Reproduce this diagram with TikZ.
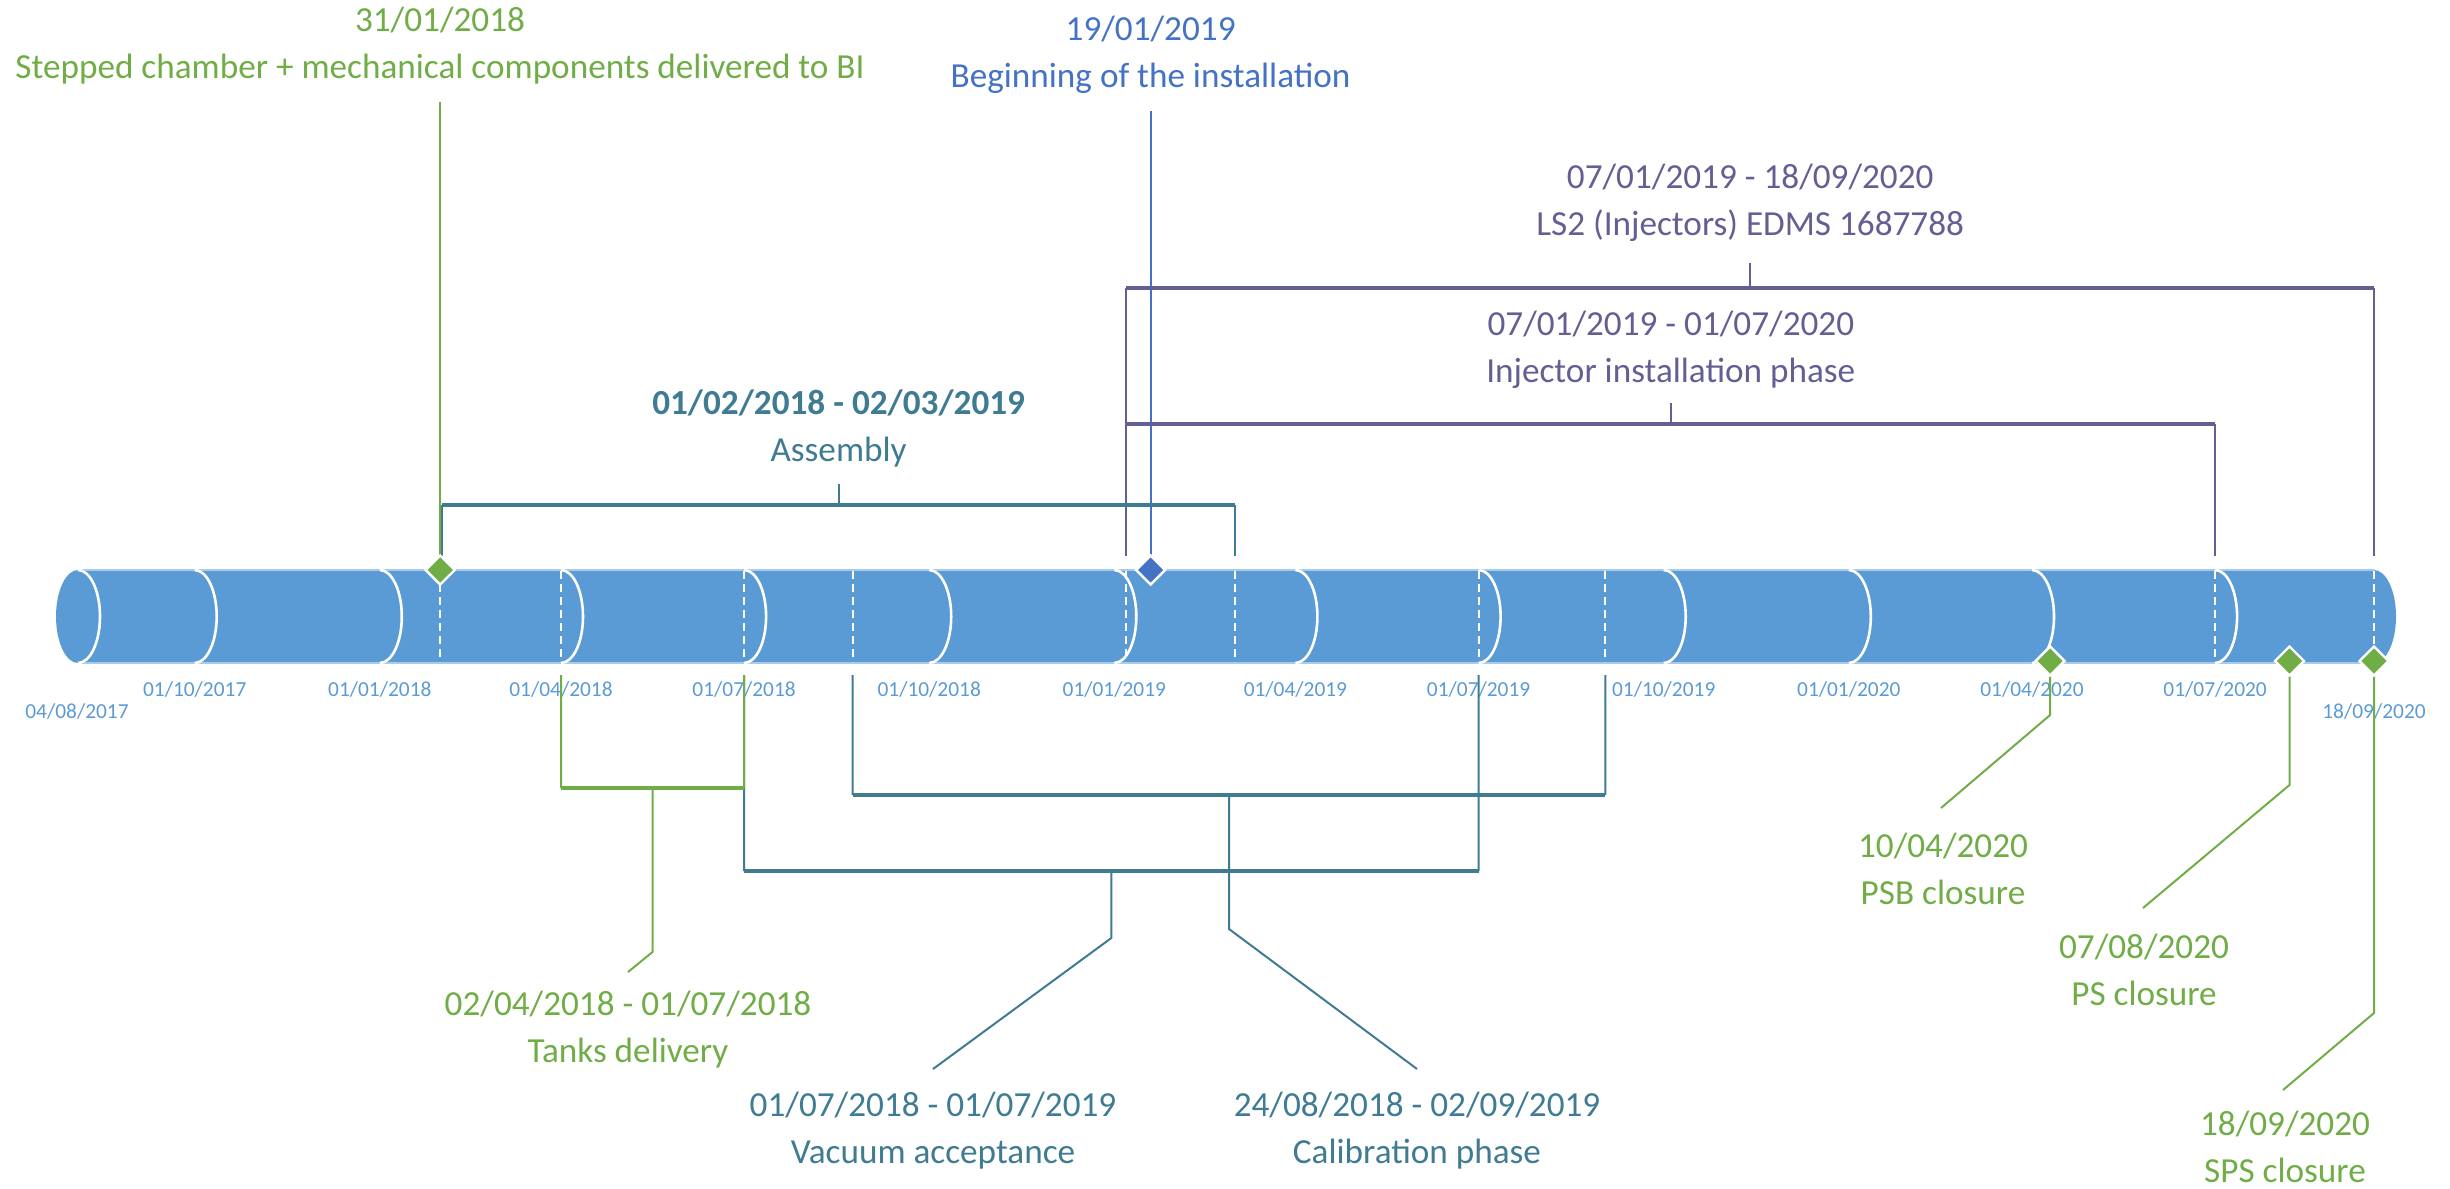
\documentclass[tikz,border=0pt]{standalone}
\usepackage{fontspec}
\setmainfont{Carlito}
\usetikzlibrary{shapes.geometric}
\definecolor{cgreen}{HTML}{70AD47}
\definecolor{cblue}{HTML}{4472C4}
\definecolor{cteal}{HTML}{3F7B92}
\definecolor{cpurple}{HTML}{645F93}
\definecolor{ctick}{HTML}{5B9BD5}
\definecolor{cyl}{HTML}{5B9BD5}
\definecolor{cyledge}{HTML}{A9CBEA}
\begin{document}
\begin{tikzpicture}[x=0.5pt,y=-0.5pt,
  bigtxt/.style={font=\fontsize{17.6}{23.5}\selectfont, align=center, inner sep=0pt},
  ticktxt/.style={font=\fontsize{10.7}{12}\selectfont, text=ctick, inner sep=0pt},
  leg/.style={line width=1pt},
  bar/.style={line width=1.6pt},
  ringarc/.style={draw=white, line width=1.3pt},
  seam/.style={draw=white, line width=1pt, dash pattern=on 4pt off 2.5pt},
  milestone/.style={diamond, minimum width=15pt, minimum height=15pt, inner sep=0pt, draw=white, line width=1.2pt}]
\useasboundingbox (0,0) rectangle (2450,1188);
% ---------- cylinder ----------
\fill[cyl] (78,570) -- (2374,570) arc[start angle=90,end angle=-90,x radius=11pt,y radius=23.25pt]
  -- (78,663) arc[start angle=270,end angle=90,x radius=11pt,y radius=23.25pt] -- cycle;
\draw[cyledge, line width=0.6pt] (78,570) -- (2374,570);
\draw[cyledge, line width=0.6pt] (78,663) -- (2374,663);
\foreach \q in {78,194.7,379.8,561.0,744.1,929.2,1114.3,1295.4,1478.6,1663.7,1848.8,2032.0,2215.1}
  \draw[ringarc] (\q,570) arc[start angle=90,end angle=-90,x radius=11pt,y radius=23.25pt];
\foreach \q in {440.2,561.0,744.1,852.7,1126.4,1235.1,1478.6,1605.3,2215.1,2374.0}
  \draw[seam] (\q,571) -- (\q,662);
% ---------- tick labels ----------
\node[ticktxt] (q1) at (194.7,690) {01/10/2017};
\node[ticktxt] (q2) at (379.8,690) {01/01/2018};
\node[ticktxt] (q3) at (561.0,690) {01/04/2018};
\node[ticktxt] (q4) at (744.1,690) {01/07/2018};
\node[ticktxt] (q5) at (929.2,690) {01/10/2018};
\node[ticktxt] (q6) at (1114.3,690) {01/01/2019};
\node[ticktxt] (q7) at (1295.4,690) {01/04/2019};
\node[ticktxt] (q8) at (1478.6,690) {01/07/2019};
\node[ticktxt] (q9) at (1663.7,690) {01/10/2019};
\node[ticktxt] (q10) at (1848.8,690) {01/01/2020};
\node[ticktxt] (q11) at (2032.0,690) {01/04/2020};
\node[ticktxt] (q12) at (2215.1,690) {01/07/2020};
\node[ticktxt] (qs) at (77,712) {04/08/2017};
\node[ticktxt] (qe) at (2374,712) {18/09/2020};
% ---------- milestone positions ----------
\coordinate (m1) at (440.2,570);
\coordinate (m2) at (1150.6,570);
\coordinate (m3) at (2050.1,661);
\coordinate (m4) at (2289.5,661);
\coordinate (m5) at (2374.0,661);
% ---------- top labels ----------
\node[bigtxt, text=cgreen] (t1) at (440,45.5) {31/01/2018\\Stepped chamber + mechanical components delivered to BI};
\node[bigtxt, text=cblue] (t2) at (1150.6,54.5) {19/01/2019\\Beginning of the installation};
\node[bigtxt, text=cpurple] (t3) at (1750.2,203) {07/01/2019 - 18/09/2020\\LS2 (Injectors) EDMS 1687788};
\node[bigtxt, text=cpurple] (t4) at (1670.8,350) {07/01/2019 - 01/07/2020\\Injector installation phase};
\node[bigtxt, text=cteal] (t5) at (838.6,428) {\bfseries 01/02/2018 - 02/03/2019\\Assembly};
% ---------- bottom labels ----------
\node[bigtxt, text=cgreen] (t6) at (628,1030) {02/04/2018 - 01/07/2018\\Tanks delivery};
\node[bigtxt, text=cteal] (t7) at (933,1131) {01/07/2018 - 01/07/2019\\Vacuum acceptance};
\node[bigtxt, text=cteal] (t8) at (1417,1131) {24/08/2018 - 02/09/2019\\Calibration phase};
\node[bigtxt, text=cgreen] (t9) at (1943,869) {10/04/2020\\PSB closure};
\node[bigtxt, text=cgreen] (t10) at (2144,969.5) {07/08/2020\\PS closure};
\node[bigtxt, text=cgreen] (t11) at (2285,1146.5) {18/09/2020\\SPS closure};
% ---------- milestone lines ----------
\coordinate (c1) at (440.2,102);
\draw[cgreen, leg] (c1) -- (m1);
\coordinate (c2) at (1150.6,111);
\draw[cblue, leg] (c2) -- (m2);
% ---------- LS2 bracket ----------
\coordinate (a1) at (1126.4,556); \coordinate (a2) at (1126.4,288);
\coordinate (a3) at (2374.0,288); \coordinate (a4) at (2374.0,556);
\coordinate (a5) at (1750.2,288); \coordinate (a6) at (1750.2,263);
\draw[cpurple, leg] (a1) -- (a2) (a3) -- (a4) (a5) -- (a6);
\draw[cpurple, bar] (a2) -- (a3);
% ---------- injector bracket ----------
\coordinate (b1) at (1126.4,556); \coordinate (b2) at (1126.4,424);
\coordinate (b3) at (2215.1,424); \coordinate (b4) at (2215.1,556);
\coordinate (b5) at (1670.8,424); \coordinate (b6) at (1670.8,403);
\draw[cpurple, leg] (b1) -- (b2) (b3) -- (b4) (b5) -- (b6);
\draw[cpurple, bar] (b2) -- (b3);
% ---------- assembly bracket ----------
\coordinate (e1) at (442.2,556); \coordinate (e2) at (442.2,505);
\coordinate (e3) at (1235.1,505); \coordinate (e4) at (1235.1,556);
\coordinate (e5) at (838.6,505); \coordinate (e6) at (838.6,484);
\draw[cteal, leg] (e1) -- (e2) (e3) -- (e4) (e5) -- (e6);
\draw[cteal, bar] (e2) -- (e3);
% ---------- calibration bracket ----------
\coordinate (g1) at (852.7,675); \coordinate (g2) at (852.7,795);
\coordinate (g3) at (1605.3,795); \coordinate (g4) at (1605.3,675);
\coordinate (g5) at (1229,795); \coordinate (g6) at (1229,929); \coordinate (g7) at (1417,1069);
\draw[cteal, leg] (g1) -- (g2) (g3) -- (g4) (g5) -- (g6) -- (g7);
\draw[cteal, bar] (g2) -- (g3);
% ---------- vacuum bracket ----------
\coordinate (v1) at (744.1,675); \coordinate (v2) at (744.1,871);
\coordinate (v3) at (1478.6,871); \coordinate (v4) at (1478.6,675);
\coordinate (v5) at (1111.3,871); \coordinate (v6) at (1111.3,938); \coordinate (v7) at (933,1069);
\draw[cteal, leg] (v1) -- (v2) (v3) -- (v4) (v5) -- (v6) -- (v7);
\draw[cteal, bar] (v2) -- (v3);
% ---------- tanks bracket ----------
\coordinate (k1) at (561.0,675); \coordinate (k2) at (561.0,788);
\coordinate (k3) at (744.1,788); \coordinate (k4) at (744.1,675);
\coordinate (k5) at (652.5,788); \coordinate (k6) at (652.5,952); \coordinate (k7) at (628,972);
\draw[cgreen, leg] (k1) -- (k2) (k3) -- (k4) (k5) -- (k6) -- (k7);
\draw[cgreen, bar] (k2) -- (k3);
% ---------- closure callouts ----------
\coordinate (p1) at (2050.1,715); \coordinate (p2) at (1941,808);
\draw[cgreen, leg] (m3) -- (p1) -- (p2);
\coordinate (r1) at (2289.5,785); \coordinate (r2) at (2143,908);
\draw[cgreen, leg] (m4) -- (r1) -- (r2);
\coordinate (s1) at (2374.0,1013); \coordinate (s2) at (2283,1090);
\draw[cgreen, leg] (m5) -- (s1) -- (s2);
% ---------- diamonds ----------
\node[milestone, fill=cgreen] (dm1) at (m1) {};
\node[milestone, fill=cblue] (dm2) at (m2) {};
\node[milestone, fill=cgreen] (dm3) at (m3) {};
\node[milestone, fill=cgreen] (dm4) at (m4) {};
\node[milestone, fill=cgreen] (dm5) at (m5) {};
\end{tikzpicture}
\end{document}
